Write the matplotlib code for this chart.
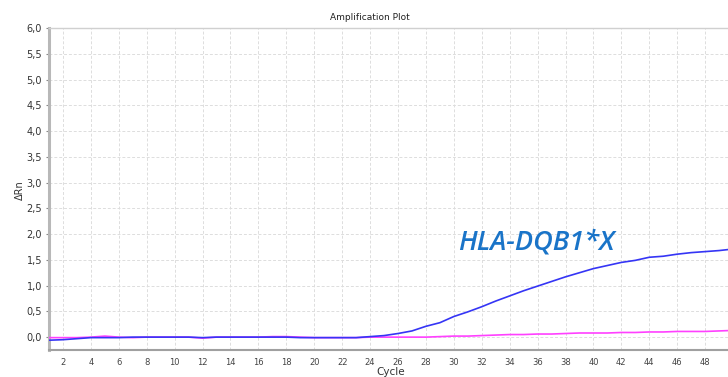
import matplotlib
matplotlib.use("Agg")
import matplotlib.pyplot as plt
import numpy as np

cycles = list(range(1, 51))
blue = [-0.06, -0.05, -0.03, -0.01, -0.01, -0.01, 0.0, 0.0, 0.0, 0.0,
        0.0, -0.01, 0.0, 0.0, 0.0, 0.0, 0.0, 0.0, -0.01, -0.01,
        -0.01, -0.01, -0.01, 0.01, 0.03, 0.07, 0.12, 0.21, 0.28, 0.40,
        0.49, 0.59, 0.70, 0.80, 0.90, 0.99, 1.08, 1.17, 1.25, 1.33,
        1.39, 1.45, 1.49, 1.55, 1.57, 1.61, 1.64, 1.66, 1.68, 1.71]
magenta = [-0.01, -0.01, -0.01, 0.0, 0.02, 0.0, -0.01, 0.0, 0.0, 0.0,
           0.0, -0.02, 0.0, 0.0, 0.0, 0.0, 0.01, 0.01, 0.0, -0.01,
           -0.01, -0.01, -0.01, 0.0, 0.0, 0.0, 0.0, 0.0, 0.01, 0.02,
           0.02, 0.03, 0.04, 0.05, 0.05, 0.06, 0.06, 0.07, 0.08, 0.08,
           0.08, 0.09, 0.09, 0.10, 0.10, 0.11, 0.11, 0.11, 0.12, 0.13]
xticks = list(range(2, 50, 2))
yticks = [0.0, 0.5, 1.0, 1.5, 2.0, 2.5, 3.0, 3.5, 4.0, 4.5, 5.0, 5.5, 6.0]
ytick_labels = [f"{v:.1f}".replace(".", ",") for v in yticks]

fig = plt.figure(figsize=(7.28, 3.77), dpi=100)
ax = fig.add_axes([49 / 728, 27 / 377, 1 - 49 / 728, (350 - 28) / 377])

ax.plot(cycles, magenta, color="#ff40ff", lw=1.2, zorder=3)
ax.plot(cycles, blue, color="#3535f5", lw=1.2, zorder=4)

ax.set_xlim(1, 49.64)
ax.set_ylim(-0.25, 6.0)
ax.set_xticks(xticks)
ax.set_xticklabels([str(t) for t in xticks])
ax.set_yticks(yticks)
ax.set_yticklabels(ytick_labels)
ax.tick_params(axis="x", length=0, labelsize=6, labelcolor="#444444", pad=6)
ax.tick_params(axis="y", length=2, width=0.8, color="#888888", labelsize=7, labelcolor="#333333", pad=3)

ax.grid(True, color="#dddddd", linestyle=(0, (3, 2)), linewidth=0.7)
ax.set_axisbelow(True)

ax.spines["left"].set_color("#b8b8b8")
ax.spines["left"].set_linewidth(2.2)
ax.spines["bottom"].set_color("#a0a0a0")
ax.spines["bottom"].set_linewidth(1.5)
ax.spines["top"].set_color("#d0d0d0")
ax.spines["top"].set_linewidth(1.0)
ax.spines["right"].set_visible(False)

fig.text(370 / 728, 1 - 17 / 377, "Amplification Plot", ha="center", va="center",
         fontsize=6.5, color="#222222")
fig.text(20 / 728, 1 - 190 / 377, "ΔRn", ha="center", va="center", rotation=90,
         fontsize=7, color="#333333")
fig.text(391 / 728, 1 - 372 / 377, "Cycle", ha="center", va="center",
         fontsize=7.5, color="#333333")

fig.text(536.5 / 728, 1 - 243 / 377, "HLA-DQB1*X",
         ha="center", va="center", fontsize=19.5, style="italic", fontweight="semibold",
         color="#1a74c8", family=["Open Sans", "DejaVu Sans"])

fig.savefig("out.png", dpi=100)
